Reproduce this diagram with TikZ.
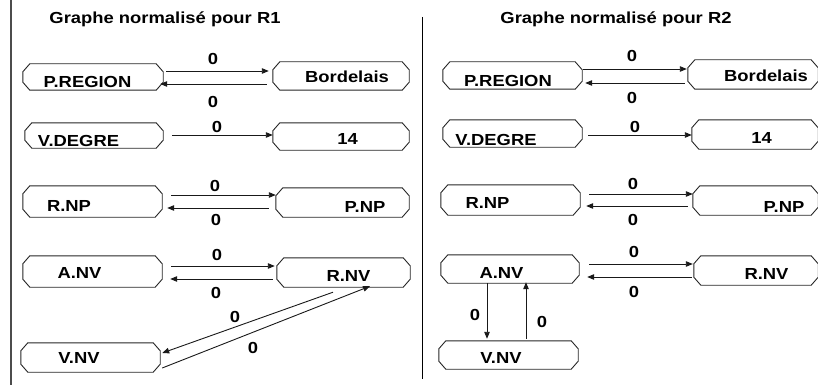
\documentclass[tikz,border=0pt]{standalone}
\usepackage{fontspec}
\newfontfamily\lbl[FakeStretch=1.15]{Liberation Sans}
\usetikzlibrary{arrows.meta}

\begin{document}
\begin{tikzpicture}[x=1pt,y=-1pt,
  frame/.style={draw=none,inner sep=0pt,rectangle},
  boxline/.style={draw=black!85,line width=0.9pt,line join=round},
  txt/.style={anchor=base,inner sep=0pt,font=\lbl\bfseries\fontsize{16}{19}\selectfont},
  arr/.style={draw=black!90,line width=0.9pt,-{Triangle[length=7pt,width=5.5pt]}}
]
\useasboundingbox (0,0) rectangle (818,385);
\clip (0,0) rectangle (818,385);

% outer left rule and middle separator
\draw[line width=2.5pt,black!70] (11,0) -- (11,385);
\draw[line width=0.9pt] (422,17) -- (422,379);

% titles
\node[txt] (t1) at (165,24) {Graphe normalisé pour R1};
\node[txt] (t2) at (616,24) {Graphe normalisé pour R2};

% ---------- graph for R1 ----------
\node[frame,minimum width=140pt,minimum height=26pt] (lpreg) at (93,77) {};
\node[frame,minimum width=136pt,minimum height=28pt] (lbord) at (341,76) {};
\node[frame,minimum width=138pt,minimum height=25pt] (lvdeg) at (94,135.5) {};
\node[frame,minimum width=136pt,minimum height=27pt] (lqt) at (341,136.5) {};
\node[frame,minimum width=139pt,minimum height=31pt] (lrnp) at (92.5,201.5) {};
\node[frame,minimum width=133pt,minimum height=29pt] (lpnp) at (342.5,202.5) {};
\node[frame,minimum width=139pt,minimum height=31pt] (lanv) at (92.5,271.5) {};
\node[frame,minimum width=133pt,minimum height=29pt] (lrnv) at (343.5,272.5) {};
\node[frame,minimum width=139pt,minimum height=29pt] (lvnv) at (90.5,357.5) {};

% ---------- graph for R2 ----------
\node[frame,minimum width=139pt,minimum height=27pt] (rpreg) at (512.5,75.5) {};
\node[frame,minimum width=130pt,minimum height=29pt] (rbord) at (753,74.5) {};
\node[frame,minimum width=139pt,minimum height=27pt] (rvdeg) at (512.5,133.5) {};
\node[frame,minimum width=126pt,minimum height=29pt] (rqt) at (755,134.5) {};
\node[frame,minimum width=139pt,minimum height=30pt] (rrnp) at (510.5,200) {};
\node[frame,minimum width=125pt,minimum height=29pt] (rpnp) at (755.5,200.5) {};
\node[frame,minimum width=138pt,minimum height=28pt] (ranv) at (510,269) {};
\node[frame,minimum width=124pt,minimum height=29pt] (rrnv) at (756,270.5) {};
\node[frame,minimum width=139pt,minimum height=28pt] (rvnv) at (508.5,355) {};

% chamfered outlines of all boxes
\foreach \n in {lpreg,lbord,lvdeg,lqt,lrnp,lpnp,lanv,lrnv,lvnv,
                rpreg,rbord,rvdeg,rqt,rrnp,rpnp,ranv,rrnv,rvnv}{
  \draw[boxline]
    ([xshift=7pt]\n.north west) -- ([xshift=-7pt]\n.north east)
    -- ([yshift=-8pt]\n.north east) -- ([yshift=8pt]\n.south east)
    -- ([xshift=-7pt]\n.south east) -- ([xshift=7pt]\n.south west)
    -- ([yshift=8pt]\n.south west) -- ([yshift=-8pt]\n.north west) -- cycle;
}

% box texts
\node[txt] (lpregT) at (87.5,88) {P.REGION};
\node[txt] (lbordT) at (347,83) {Bordelais};
\node[txt] (lvdegT) at (78.5,146) {V.DEGRE};
\node[txt] (lqtT)   at (347.5,144) {14};
\node[txt] (lrnpT)  at (69,211) {R.NP};
\node[txt] (lpnpT)  at (365,212) {P.NP};
\node[txt] (lanvT)  at (79.5,278) {A.NV};
\node[txt] (lrnvT)  at (348.5,281) {R.NV};
\node[txt] (lvnvT)  at (79,363) {V.NV};

\node[txt] (rpregT) at (508,87) {P.REGION};
\node[txt] (rbordT) at (766,82) {Bordelais};
\node[txt] (rvdegT) at (496,145) {V.DEGRE};
\node[txt] (rqtT)   at (761.5,143) {14};
\node[txt] (rrnpT)  at (487.5,208) {R.NP};
\node[txt] (rpnpT)  at (784,212) {P.NP};
\node[txt] (ranvT)  at (501.5,278) {A.NV};
\node[txt] (rrnvT)  at (766.5,279) {R.NV};
\node[txt] (rvnvT)  at (501,363) {V.NV};

% ---------- connectors for R1 ----------
\draw[arr] ([xshift=3pt,yshift=6pt]lpreg.east) -- ([xshift=-4pt,yshift=5pt]lbord.west);
\draw[arr] ([xshift=-6pt,yshift=-8pt]lbord.west) -- ([xshift=-3pt,yshift=-7pt]lpreg.east);
\draw[arr] ([xshift=9pt,yshift=0.5pt]lvdeg.east) -- ([yshift=1.5pt]lqt.west);
\draw[arr] ([xshift=9pt,yshift=6.5pt]lrnp.east) -- ([yshift=7.5pt]lpnp.west);
\draw[arr] ([xshift=-7pt,yshift=-5.5pt]lpnp.west) -- ([xshift=5pt,yshift=-6.5pt]lrnp.east);
\draw[arr] ([xshift=9pt,yshift=5.5pt]lanv.east) -- ([xshift=-2pt,yshift=6.5pt]lrnv.west);
\draw[arr] ([xshift=-4pt,yshift=-6.5pt]lrnv.west) -- ([xshift=8pt,yshift=-7.5pt]lanv.east);
\draw[arr] ([xshift=-10.5pt,yshift=-5pt]lrnv.south) -- ([xshift=2pt,yshift=4.5pt]lvnv.east);
\draw[arr] ([xshift=2pt,yshift=-10.5pt]lvnv.east) -- ([xshift=26.5pt,yshift=1pt]lrnv.south);

\node[txt] (l1a) at (213,65) {0};
\node[txt] (l1b) at (213,107) {0};
\node[txt] (l2a) at (217,132) {0};
\node[txt] (l3a) at (215,191) {0};
\node[txt] (l3b) at (216,225) {0};
\node[txt] (l4a) at (217,260) {0};
\node[txt] (l4b) at (216,298) {0};
\node[txt] (l5a) at (235,322) {0};
\node[txt] (l5b) at (253,353) {0};

% ---------- connectors for R2 ----------
\draw[arr] ([xshift=1pt,yshift=6.5pt]rpreg.east) -- ([xshift=-1pt,yshift=5.5pt]rbord.west);
\draw[arr] ([xshift=-3pt,yshift=-8.5pt]rbord.west) -- ([xshift=3pt,yshift=-7.5pt]rpreg.east);
\draw[arr] ([xshift=6pt,yshift=-1.5pt]rvdeg.east) -- ([yshift=-0.5pt]rqt.west);
\draw[arr] ([xshift=9pt,yshift=6pt]rrnp.east) -- ([yshift=6.5pt]rpnp.west);
\draw[arr] ([xshift=-5pt,yshift=-5.5pt]rpnp.west) -- ([xshift=6pt,yshift=-6pt]rrnp.east);
\draw[arr] ([xshift=10pt,yshift=5pt]ranv.east) -- ([xshift=-1pt,yshift=6.5pt]rrnv.west);
\draw[arr] ([xshift=-2pt,yshift=-6.5pt]rrnv.west) -- ([xshift=8pt,yshift=-8pt]ranv.east);
\draw[arr] ([xshift=-23pt]ranv.south) -- ([xshift=-21.5pt,yshift=2pt]rvnv.north);
\draw[arr] ([xshift=17.5pt,yshift=2pt]rvnv.north) -- ([xshift=16pt,yshift=1pt]ranv.south);

\node[txt] (r1a) at (632,62) {0};
\node[txt] (r1b) at (632,103) {0};
\node[txt] (r2a) at (635,132) {0};
\node[txt] (r3a) at (633,189) {0};
\node[txt] (r3b) at (633,225) {0};
\node[txt] (r4a) at (634,257) {0};
\node[txt] (r4b) at (634,297) {0};
\node[txt] (r5a) at (475,320) {0};
\node[txt] (r5b) at (542,327) {0};
\end{tikzpicture}
\end{document}
